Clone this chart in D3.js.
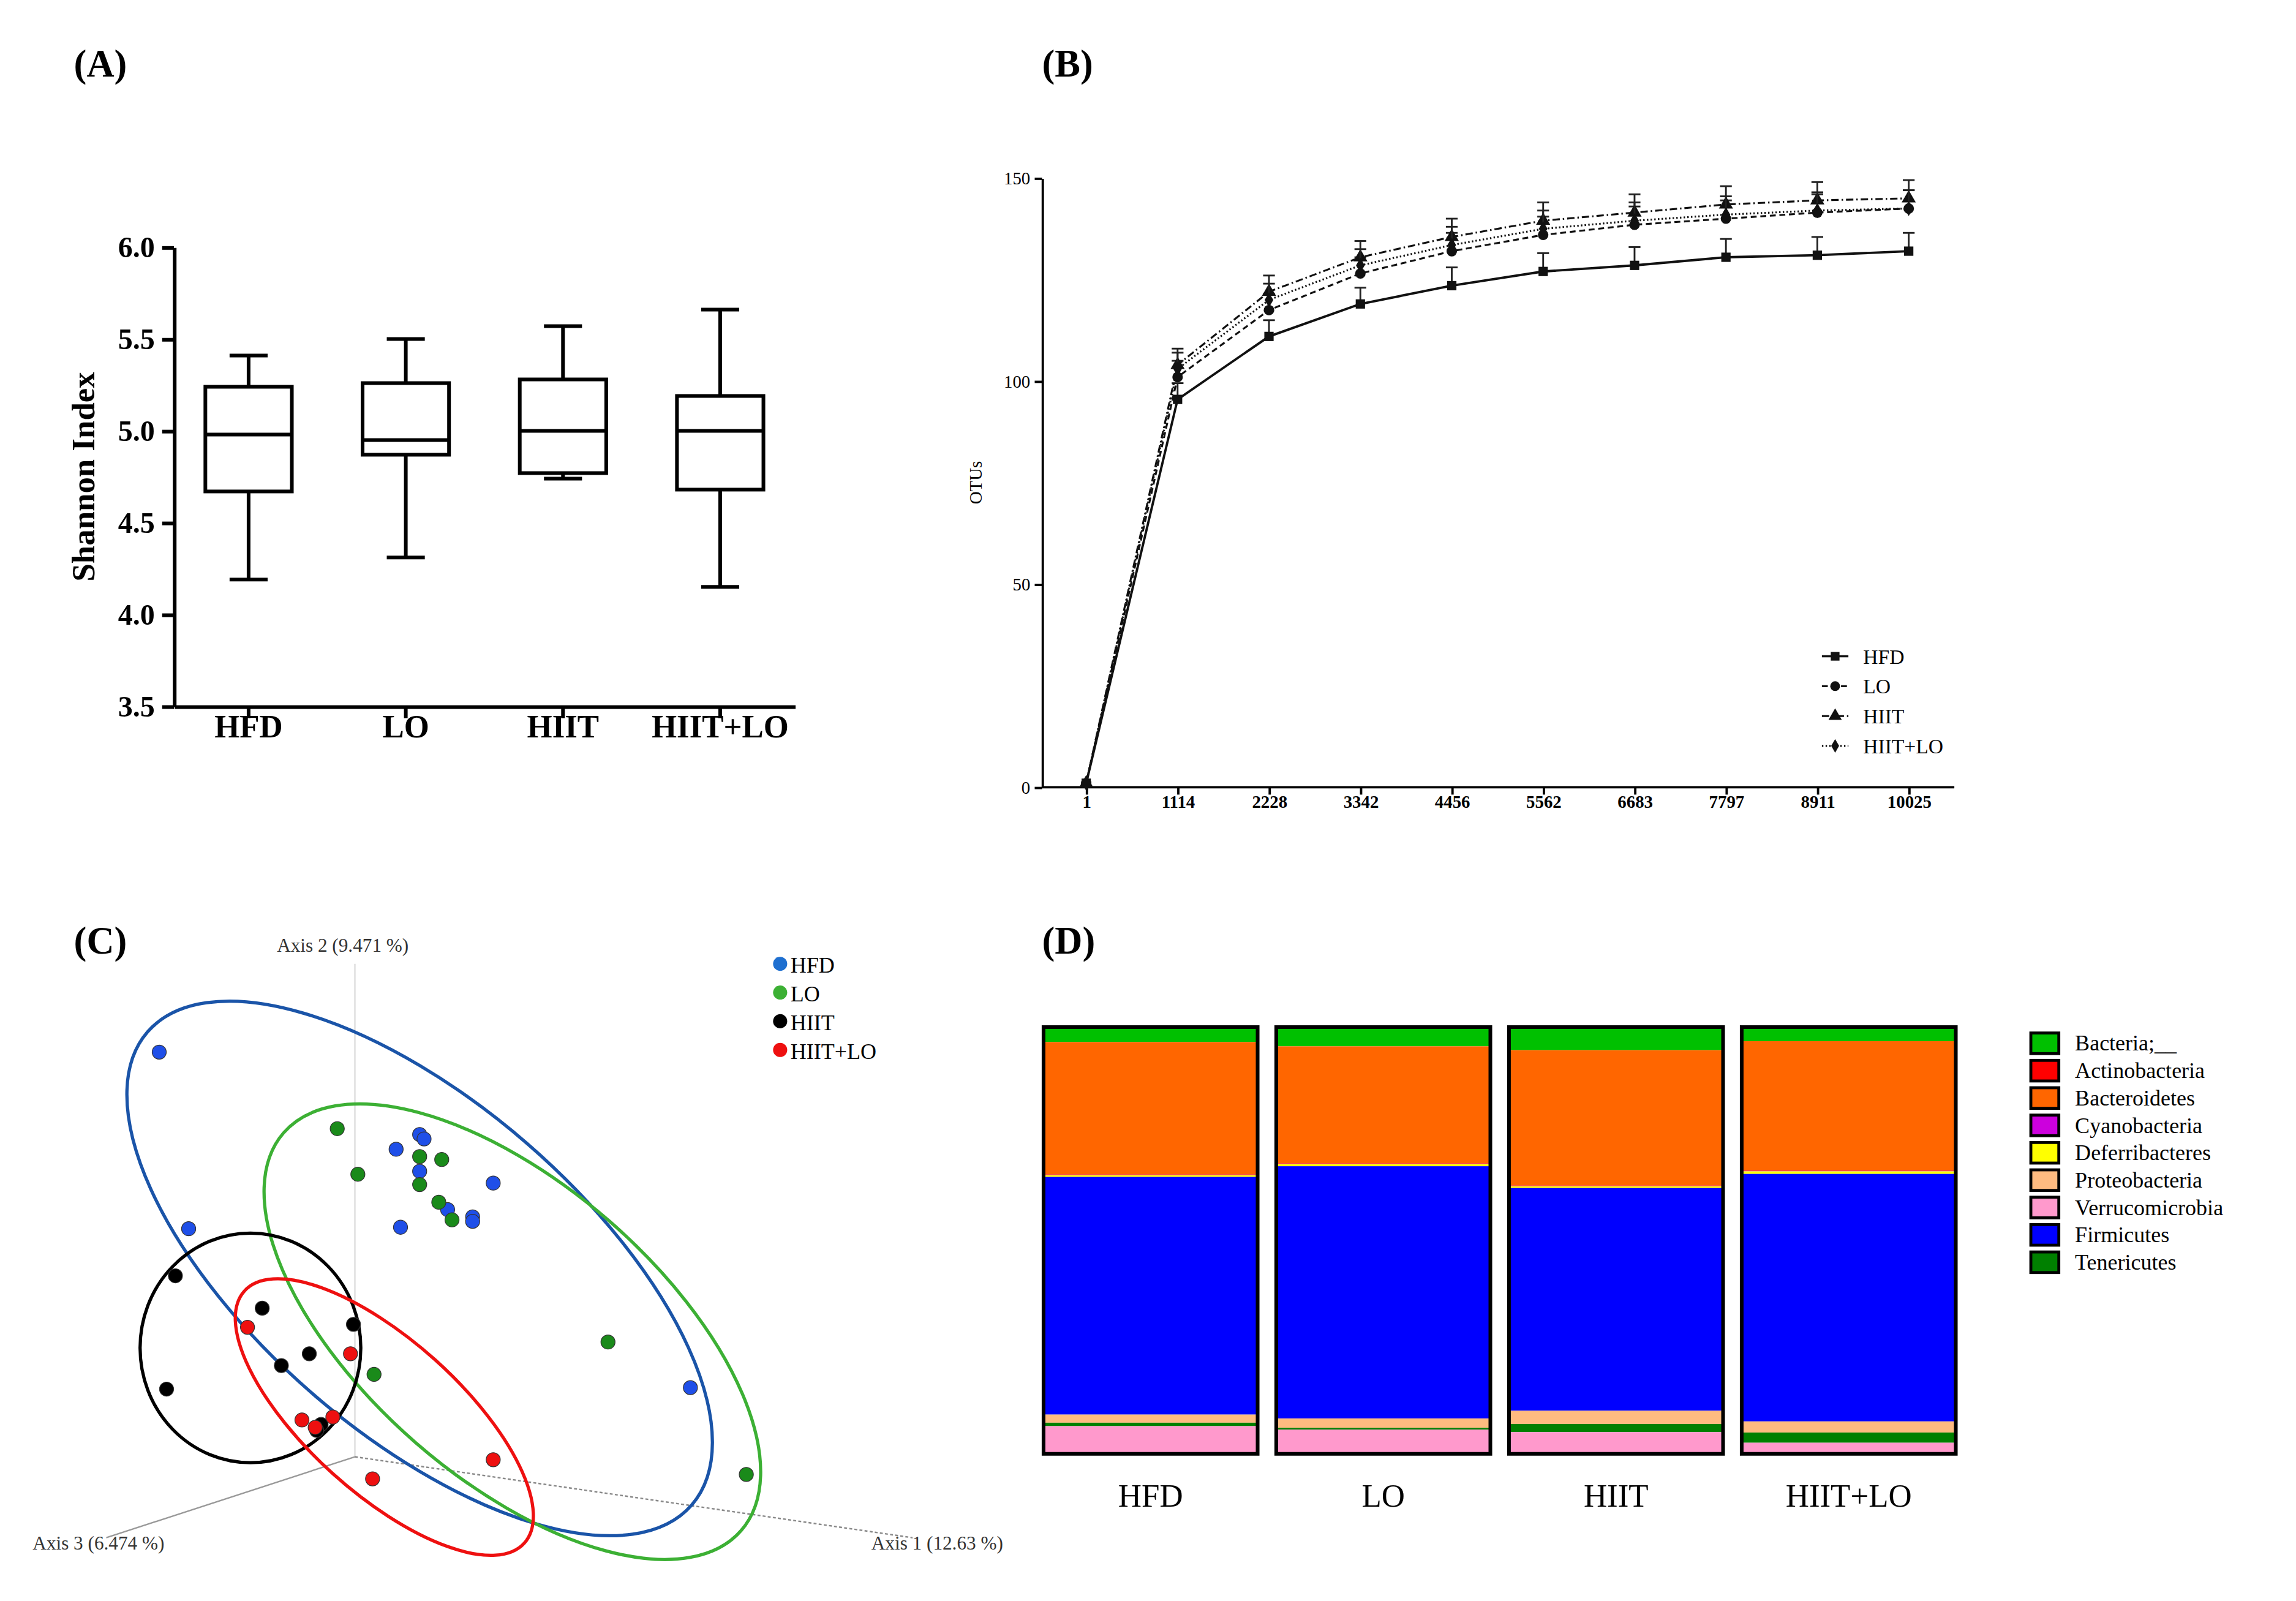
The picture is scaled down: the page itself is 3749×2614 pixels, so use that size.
<!DOCTYPE html>
<html><head><meta charset="utf-8">
<script src="https://cdn.jsdelivr.net/npm/d3@7"></script>
<style>body{margin:0;background:#fff}svg{display:block}text{font-family:"Liberation Serif",serif}</style>
</head><body><svg id="c" width="3749" height="2614" viewBox="0 0 1560 1088"></svg>
<script>
// ---------- data ----------
const groups = ["HFD","LO","HIIT","HIIT+LO"];
const boxMin = [4.19,4.31,4.74,4.15];
const boxQ1  = [4.67,4.87,4.77,4.68];
const boxMed = [4.98,4.95,5.00,5.00];
const boxQ3  = [5.24,5.26,5.28,5.19];
const boxMax = [5.41,5.50,5.57,5.66];
const shannonTicks = [3.5,4.0,4.5,5.0,5.5,6.0];

const depths = ["1","1114","2228","3342","4456","5562","6683","7797","8911","10025"];
const otuHFD    = [1,95.5,111,119,123.5,127,128.5,130.5,131,132];
const otuLO     = [1,101,117.5,126.5,132,136,138.5,140,141.5,142.5];
const otuHIIT   = [1,104,122,130.5,135.5,139.5,141.5,143.5,144.5,145];
const otuHIITLO = [1,103,120,128.5,133.5,137.5,139.5,141,142,142.5];
const otuErr    = [0,4,4,4,4.5,4.5,4.5,4.5,4.5,4.5];
const otuTicks = [0,50,100,150];

const pcoaHFD = [[108,715],[128,835],[269,781],[285,771],[288,774],[285,796],[335,804],[304,822],[321,827],[321,830],[272,834],[469,943]];
const pcoaLO = [[229,767],[243,798],[285,786],[300,788],[285,805],[298,817],[307,829],[413,912],[254,934],[507,1002]];
const pcoaHIIT = [[119,867],[178,889],[240,900],[210,920],[191,928],[113,944],[218,968],[215,972]];
const pcoaHIITLO = [[168,902],[238,920],[205,965],[226,963],[214,970],[335,992],[253,1005]];
// ellipses: cx, cy, semi-axis a, semi-axis b, angle(deg)
const ellHFD = [285,862,245,112,41];
const ellLO = [348,905,206,100,41];
const ellHIIT = [170,916,75,78,0];
const ellHIITLO = [261,963,128,52,42];

const phyla = ["Bacteria;__","Actinobacteria","Bacteroidetes","Cyanobacteria","Deferribacteres","Proteobacteria","Verrucomicrobia","Firmicutes","Tenericutes"];
const phylaColors = ["#00c000","#ff0000","#ff6600","#cc00dd","#ffff00","#ffbb80","#ff99cc","#0000ff","#008000"];
const stackOrder = ["Bacteria;__","Bacteroidetes","Actinobacteria","Cyanobacteria","Deferribacteres","Firmicutes","Proteobacteria","Tenericutes","Verrucomicrobia"];
const abHFD    = {"Bacteria;__":3.5,"Bacteroidetes":31,"Actinobacteria":0.1,"Cyanobacteria":0.1,"Deferribacteres":0.4,"Firmicutes":55.7,"Proteobacteria":1.9,"Tenericutes":0.8,"Verrucomicrobia":6.5};
const abLO     = {"Bacteria;__":4.5,"Bacteroidetes":27.4,"Actinobacteria":0.1,"Cyanobacteria":0.1,"Deferribacteres":0.5,"Firmicutes":59.1,"Proteobacteria":2.2,"Tenericutes":0.4,"Verrucomicrobia":5.7};
const abHIIT   = {"Bacteria;__":5.4,"Bacteroidetes":31.7,"Actinobacteria":0.1,"Cyanobacteria":0.1,"Deferribacteres":0.4,"Firmicutes":52.2,"Proteobacteria":3.1,"Tenericutes":1.9,"Verrucomicrobia":5.1};
const abHIITLO = {"Bacteria;__":3.3,"Bacteroidetes":30.3,"Actinobacteria":0.1,"Cyanobacteria":0.1,"Deferribacteres":0.6,"Firmicutes":58,"Proteobacteria":2.6,"Tenericutes":2.4,"Verrucomicrobia":2.6};

const svg = d3.select("#c");
svg.append("rect").attr("width",1560).attr("height",1088).attr("fill","#fff");
[["(A)",50,52],["(B)",708,52],["(C)",50,648],["(D)",708,648]].forEach(([t,x,y])=>
  svg.append("text").attr("x",x).attr("y",y).attr("font-size",26).attr("font-weight","bold").text(t));

// ---------- A ----------
{
  const g = svg.append("g");
  const y = d3.scaleLinear().domain([3.5,6.0]).range([480,168]);
  const x = d3.scaleBand().domain(groups).range([118,540]).paddingInner(0.45).paddingOuter(0.2);
  const ax = g.append("g").attr("transform","translate(118,0)").call(d3.axisLeft(y).tickValues(shannonTicks).tickFormat(d3.format(".1f")).tickSize(8).tickSizeOuter(0));
  ax.select(".domain").attr("stroke-width",2.5);
  ax.selectAll("line").attr("stroke-width",2.5);
  ax.selectAll("text").attr("font-size",20).attr("font-weight","bold").attr("font-family","Liberation Serif").attr("dx",-2);
  const bx = g.append("g").attr("transform","translate(0,480)").call(d3.axisBottom(x).tickSize(8).tickSizeOuter(0));
  bx.select(".domain").attr("stroke-width",2.5);
  bx.selectAll("line").attr("stroke-width",2.5);
  bx.selectAll("text").attr("font-size",22).attr("font-weight","bold").attr("font-family","Liberation Serif").attr("dy",10);
  g.append("text").attr("transform","translate(64,324) rotate(-90)").attr("text-anchor","middle").attr("font-size",22).attr("font-weight","bold").text("Shannon Index");
  groups.forEach((gr,i)=>{
    const x0=x(gr), w=x.bandwidth(), cx=x0+w/2;
    const s={stroke:"#000","stroke-width":2.5,fill:"none"};
    const ln=(x1,y1,x2,y2)=>g.append("line").attr("x1",x1).attr("y1",y1).attr("x2",x2).attr("y2",y2).attr("stroke","#000").attr("stroke-width",2.5);
    ln(cx,y(boxMin[i]),cx,y(boxQ1[i])); ln(cx,y(boxQ3[i]),cx,y(boxMax[i]));
    ln(cx-w*0.22,y(boxMin[i]),cx+w*0.22,y(boxMin[i])); ln(cx-w*0.22,y(boxMax[i]),cx+w*0.22,y(boxMax[i]));
    g.append("rect").attr("x",x0).attr("width",w).attr("y",y(boxQ3[i])).attr("height",y(boxQ1[i])-y(boxQ3[i])).attr("fill","none").attr("stroke","#000").attr("stroke-width",2.5);
    ln(x0,y(boxMed[i]),x0+w,y(boxMed[i]));
  });
}

// ---------- B ----------
{
  const g = svg.append("g");
  const y = d3.scaleLinear().domain([0,150]).range([535,121]);
  const x = d3.scalePoint().domain(depths).range([738,1297]);
  const ax = g.append("g").attr("transform","translate(708,0)").call(d3.axisLeft(y).tickValues(otuTicks).tickSize(5).tickSizeOuter(0));
  ax.select(".domain").attr("stroke-width",1.6); ax.selectAll("line").attr("stroke-width",1.6);
  ax.selectAll("text").attr("font-size",12).attr("font-family","Liberation Serif");
  const bx = g.append("g").attr("transform","translate(0,535)").call(d3.axisBottom(x).tickSize(5).tickSizeOuter(0));
  bx.select(".domain").attr("d","M708,0H1328").attr("stroke-width",1.6); bx.selectAll("line").attr("stroke-width",1.6);
  bx.selectAll("text").attr("font-size",12).attr("font-weight","bold").attr("font-family","Liberation Serif").attr("dy",6);
  g.append("text").attr("transform","translate(667,328) rotate(-90)").attr("text-anchor","middle").attr("font-size",12).text("OTUs");
  const series=[["HFD",otuHFD,null,d3.symbolSquare],["LO",otuLO,"4,2.5",d3.symbolCircle],["HIIT",otuHIIT,"5,2,1,2",d3.symbolTriangle],["HIIT+LO",otuHIITLO,"1,1.5",d3.symbolDiamond]];
  const line=d3.line().x((d,i)=>x(depths[i])).y(d=>y(d));
  series.forEach(([n,v,dash,sym],k)=>{
    v.forEach((d,i)=>{ if(otuErr[i]>0){
      g.append("line").attr("x1",x(depths[i])).attr("x2",x(depths[i])).attr("y1",y(d)).attr("y2",y(d+otuErr[i])).attr("stroke","#222").attr("stroke-width",1.2);
      g.append("line").attr("x1",x(depths[i])-4).attr("x2",x(depths[i])+4).attr("y1",y(d+otuErr[i])).attr("y2",y(d+otuErr[i])).attr("stroke","#222").attr("stroke-width",1.2);}});
    g.append("path").attr("d",line(v)).attr("fill","none").attr("stroke","#111").attr("stroke-width",k==0?1.6:1.3).attr("stroke-dasharray",dash);
    g.selectAll(null).data(v).join("path").attr("transform",(d,i)=>`translate(${x(depths[i])},${y(d)})`).attr("d",d3.symbol(sym,k==3?30:40)).attr("fill","#111");
    const ly=446+k*20.3;
    g.append("line").attr("x1",1238).attr("x2",1256).attr("y1",ly).attr("y2",ly).attr("stroke","#111").attr("stroke-width",1.4).attr("stroke-dasharray",dash);
    g.append("path").attr("transform",`translate(1247,${ly})`).attr("d",d3.symbol(sym,k==3?25:35)).attr("fill","#111");
    g.append("text").attr("x",1266).attr("y",ly+5).attr("font-size",14).text(n);
  });
}

// ---------- C ----------
{
  const g = svg.append("g");
  const o=[241,990];
  g.append("line").attr("x1",o[0]).attr("y1",o[1]).attr("x2",o[0]).attr("y2",655).attr("stroke","#ddd").attr("stroke-width",1);
  g.append("line").attr("x1",o[0]).attr("y1",o[1]).attr("x2",72).attr("y2",1045).attr("stroke","#999").attr("stroke-width",1);
  g.append("line").attr("x1",o[0]).attr("y1",o[1]).attr("x2",620).attr("y2",1045).attr("stroke","#888").attr("stroke-width",1).attr("stroke-dasharray","2,1.5");
  const lab=(t,x,y)=>g.append("text").attr("x",x).attr("y",y).attr("font-size",13).attr("font-family","Liberation Sans").attr("fill","#333").text(t);
  lab("Axis 2 (9.471 %)",188,647); lab("Axis 3 (6.474 %)",22,1053); lab("Axis 1 (12.63 %)",592,1053);
  const defs=[[pcoaHFD,ellHFD,"#1a54a8","#1f4fe8","HFD","#1e6fd0"],[pcoaLO,ellLO,"#3cb034","#1a8a1a","LO","#3cb034"],[pcoaHIIT,ellHIIT,"#000","#000","HIIT","#000"],[pcoaHIITLO,ellHIITLO,"#ee1010","#ee1010","HIIT+LO","#ee1010"]];
  defs.forEach(([pts,e,ec])=>{
    g.append("ellipse").attr("cx",e[0]).attr("cy",e[1]).attr("rx",e[2]).attr("ry",e[3]).attr("transform",`rotate(${e[4]},${e[0]},${e[1]})`).attr("fill","none").attr("stroke",ec).attr("stroke-width",2.2);
  });
  defs.forEach(([pts,e,ec,pc])=>{
    g.selectAll(null).data(pts).join("circle").attr("cx",d=>d[0]).attr("cy",d=>d[1]).attr("r",4.8).attr("fill",pc).attr("stroke","#333").attr("stroke-width",0.5);
  });
  defs.forEach(([pts,e,ec,pc,n,lc],k)=>{
    g.append("circle").attr("cx",530).attr("cy",655+k*19.5).attr("r",4.8).attr("fill",lc);
    g.append("text").attr("x",537).attr("y",661+k*19.5).attr("font-size",15).text(n);
  });
}

// ---------- D ----------
{
  const g = svg.append("g");
  const data=[abHFD,abLO,abHIIT,abHIITLO];
  const x=d3.scaleBand().domain(groups).range([709,1329]).paddingInner(0.08);
  const y=d3.scaleLinear().domain([0,100]).range([698,988]);
  const col=d3.scaleOrdinal().domain(phyla).range(phylaColors);
  data.forEach((ab,i)=>{
    let acc=0;
    stackOrder.forEach(p=>{
      const v=ab[p];
      g.append("rect").attr("x",x(groups[i])).attr("width",x.bandwidth()).attr("y",y(acc)).attr("height",y(acc+v)-y(acc)).attr("fill",col(p));
      acc+=v;
    });
    g.append("rect").attr("x",x(groups[i])).attr("width",x.bandwidth()).attr("y",y(0)).attr("height",y(100)-y(0)).attr("fill","none").attr("stroke","#000").attr("stroke-width",2.5);
    g.append("text").attr("x",x(groups[i])+x.bandwidth()/2).attr("y",1024).attr("text-anchor","middle").attr("font-size",22).text(groups[i]);
  });
  phyla.forEach((p,k)=>{
    const yy=702+k*18.6;
    g.append("rect").attr("x",1380).attr("y",yy).attr("width",19).attr("height",14).attr("fill",col(p)).attr("stroke","#000").attr("stroke-width",2);
    g.append("text").attr("x",1410).attr("y",yy+12).attr("font-size",15).text(p);
  });
}
</script></body></html>
